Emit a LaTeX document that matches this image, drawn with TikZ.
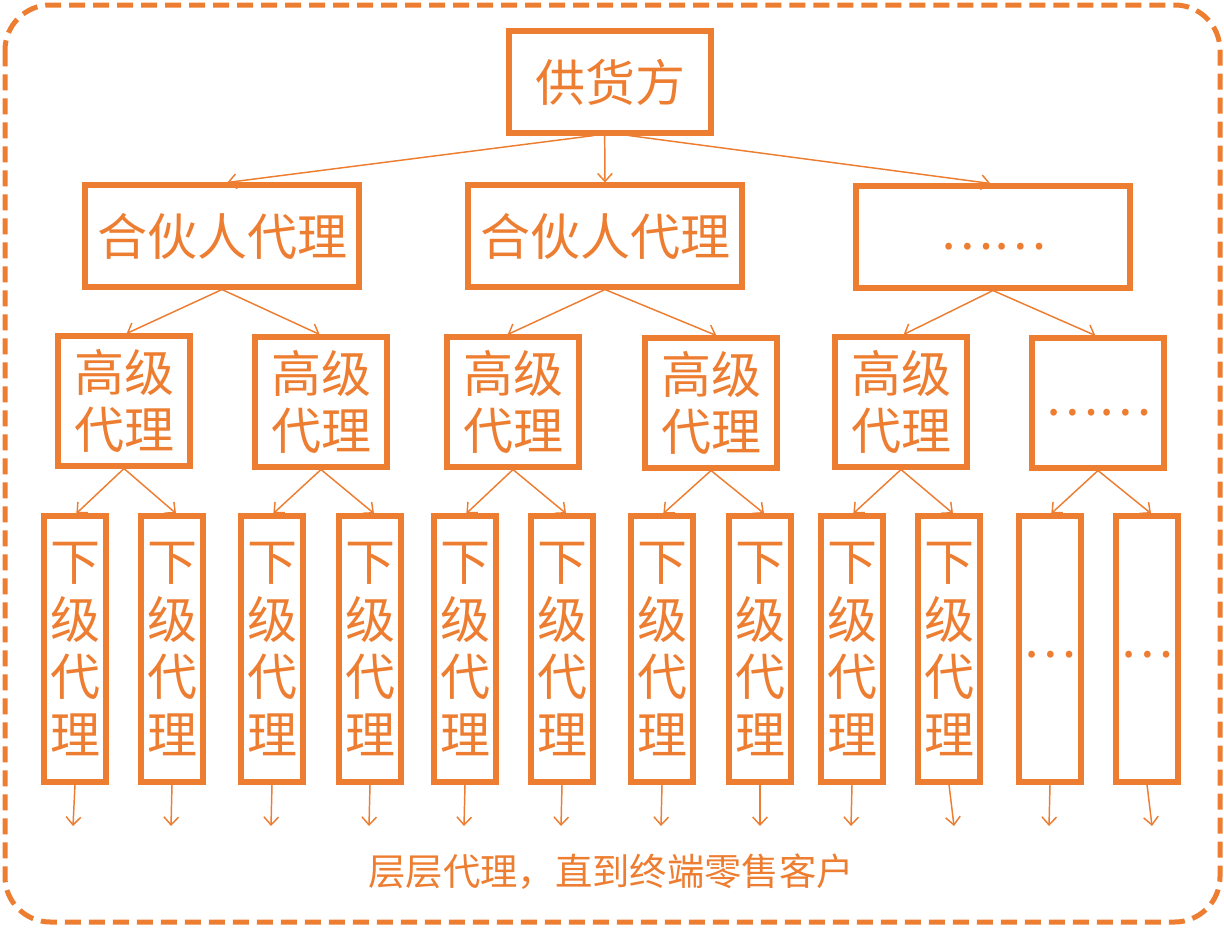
\documentclass[tikz,border=0pt]{standalone}
\usepackage{fontspec}
\setmainfont{Noto Sans CJK SC}
\usetikzlibrary{arrows.meta}
\definecolor{org}{HTML}{ED7D31}
\newcommand{\lowdots}[2]{\raisebox{#1}[\height][\depth]{#2}}
\begin{document}
\begin{tikzpicture}[x=0.75pt,y=-0.75pt,
  box/.style={draw=org,line width=4.3pt,text=org,inner sep=0pt,align=center,font=\fontsize{37.5pt}{43.3pt}\selectfont},
  l2/.style={box,minimum width=206pt,minimum height=76pt},
  l3/.style={box,minimum width=99pt,minimum height=97pt},
  l4/.style={box,minimum width=47pt,minimum height=199pt},
  con/.style={draw=org,line width=1.1pt,-{Straight Barb[length=6pt,width=11pt]}},
]
\useasboundingbox (0,0) rectangle (1224,928);
\draw[org,line width=3.75pt,dash pattern=on 12pt off 6pt,rounded corners=34pt] (5,5) rectangle (1220,922);
% top
\node[box,minimum width=152pt,minimum height=76pt] (top) at (610,82) {供货方};
% level 2
\node[l2] (p1) at (222,236) {合伙人代理};
\node[l2] (p2) at (605,236) {合伙人代理};
\node[l2] (p3) at (993,237) {\lowdots{-7pt}{……}};
% level 3
\node[l3] (g1) at (124,401) {高级\\代理};
\node[l3] (g2) at (321,402) {高级\\代理};
\node[l3] (g3) at (513,402) {高级\\代理};
\node[l3] (g4) at (711,403) {高级\\代理};
\node[l3] (g5) at (901,402) {高级\\代理};
\node[l3] (g6) at (1098,403) {\lowdots{-7pt}{……}};
% level 4
\foreach \n/\x in {1/75,2/172,3/272,4/370,5/465,6/562,7/662,8/760,9/852,10/949}{
  \node[l4] (x\n) at (\x,649) {下\\级\\代\\理};
}
\node[l4] (x11) at (1050,649) {\lowdots{-4pt}{…}};
\node[l4] (x12) at (1147,649) {\lowdots{-4pt}{…}};
% connectors top -> level 2
\draw[con] ([xshift=-12pt]top.south) -- ([xshift=4pt]p1.north);
\draw[con] ([xshift=-4pt]top.south) -- (p2.north);
\draw[con] ([xshift=14pt]top.south) -- ([xshift=-2pt]p3.north);
% level 2 -> level 3
\draw[con] (p1.south) -- ([xshift=2pt]g1.north);
\draw[con] (p1.south) -- ([xshift=-1pt]g2.north);
\draw[con] (p2.south) -- ([xshift=-4pt]g3.north);
\draw[con] (p2.south) -- ([xshift=4pt]g4.north);
\draw[con] (p3.south) -- ([xshift=2pt]g5.north);
\draw[con] (p3.south) -- ([xshift=-2pt]g6.north);
% level 3 -> level 4
\foreach \g/\a/\b in {g1/x1/x2,g2/x3/x4,g3/x5/x6,g4/x7/x8,g5/x9/x10,g6/x11/x12}{
  \draw[con] (\g.south) -- ([xshift=1pt]\a.north);
  \draw[con] (\g.south) -- ([xshift=3pt]\b.north);
}
% level 4 -> down
\foreach \n/\x in {1/73,2/171,3/271,4/369,5/464,6/561,7/661,8/760,9/851,10/954,11/1049,12/1152}{
  \coordinate (e\n) at (\x,826);
  \draw[con] (x\n.south) -- (e\n);
}
\node[text=org,font=\fontsize{28pt}{30pt}\selectfont,inner sep=0pt] (cap) at (611,872) {层层代理，直到终端零售客户};
\end{tikzpicture}
\end{document}
